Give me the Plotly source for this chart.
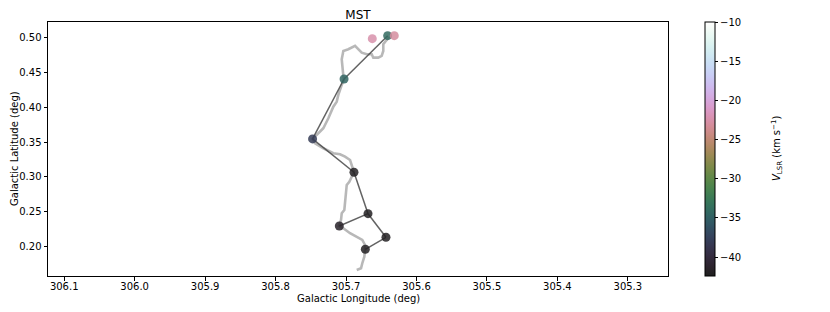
import numpy as np
import plotly.graph_objects as go

# Skeleton (gray path) in galactic coordinates
skel_l = [305.6848, 305.6787, 305.6769, 305.6740, 305.6730, 305.6730, 305.6769, 305.6848,
          305.6943, 305.7038, 305.7099, 305.7071, 305.7061, 305.7024, 305.7014, 305.7004,
          305.6990, 305.6990, 305.6953, 305.6919, 305.6887, 305.6897, 305.6919, 305.6943,
          305.7014, 305.7085, 305.7180, 305.7322, 305.7440, 305.7475, 305.7393, 305.7322,
          305.7251, 305.7180, 305.7132, 305.7109, 305.7061, 305.7028, 305.7038, 305.7047,
          305.7061, 305.7038, 305.6967, 305.6872, 305.6826, 305.6777, 305.6706, 305.6635,
          305.6613, 305.6542, 305.6494, 305.6471, 305.6471, 305.6423, 305.6390]
skel_b = [0.1657, 0.1682, 0.1754, 0.1849, 0.1945, 0.2017, 0.2089, 0.2137,
          0.2186, 0.2258, 0.2291, 0.2378, 0.2474, 0.2522, 0.2618, 0.2713,
          0.2810, 0.2882, 0.2929, 0.3001, 0.3069, 0.3098, 0.3160, 0.3242,
          0.3290, 0.3324, 0.3339, 0.3411, 0.3483, 0.3545, 0.3627, 0.3699,
          0.3843, 0.4010, 0.4082, 0.4179, 0.4323, 0.4409, 0.4452, 0.4572,
          0.4693, 0.4813, 0.4837, 0.4885, 0.4837, 0.4788, 0.4765, 0.4765,
          0.4716, 0.4716, 0.4741, 0.4813, 0.4909, 0.4981, 0.5014]

# MST nodes
node_l = [305.6409, 305.7028, 305.7475, 305.6887, 305.6688, 305.7095, 305.6433, 305.6726, 305.6627, 305.6315]
node_b = [0.5033, 0.4409, 0.3545, 0.3065, 0.2468, 0.2291, 0.2128, 0.1955, 0.4990, 0.5033]
node_v = [-34.0, -34.5, -38.0, -42.0, -42.0, -41.5, -42.0, -42.0, -22.5, -23.0]

# MST edges (node index pairs)
edges = [(0, 1), (1, 2), (2, 3), (3, 4), (4, 5), (4, 6), (6, 7)]

v_min, v_max = -42.4, -10.0
cbar_ticks = [-10, -15, -20, -25, -30, -35, -40]


def cubehelix(n=64, gamma=1.0, s=0.5, r=-1.5, h=1.0, alpha=1.0):
    scale = []
    for i in range(n):
        x = i / (n - 1)
        xg = x ** gamma
        a = h * xg * (1 - xg) / 2
        phi = 2 * np.pi * (s / 3 + r * x)
        R = xg + a * (-0.14861 * np.cos(phi) + 1.78277 * np.sin(phi))
        G = xg + a * (-0.29227 * np.cos(phi) - 0.90649 * np.sin(phi))
        B = xg + a * (1.97294 * np.cos(phi))
        rgb = [int(round(255 * (alpha * min(1, max(0, c)) + (1 - alpha)))) for c in (R, G, B)]
        scale.append([x, f"rgb({rgb[0]},{rgb[1]},{rgb[2]})"])
    return scale


ex, ey = [], []
for a, b in edges:
    ex += [node_l[a], node_l[b], None]
    ey += [node_b[a], node_b[b], None]

# page has an 8px body margin: figure is placed at (8, 8)
W, H = 814, 296
L, R, T, B = 40, 154, 14, 28
plot_w = W - L - R
plot_h = H - T - B
FS = 10

fig = go.Figure()
fig.add_trace(go.Scatter(x=skel_l, y=skel_b, mode="lines",
                         line=dict(color="rgba(160,160,160,0.75)", width=2.6),
                         hoverinfo="skip", showlegend=False))
fig.add_trace(go.Scatter(x=ex, y=ey, mode="lines",
                         line=dict(color="rgba(70,70,70,0.85)", width=1.5),
                         hoverinfo="skip", showlegend=False))
fig.add_trace(go.Scatter(
    x=node_l, y=node_b, mode="markers", showlegend=False,
    marker=dict(size=9, color=node_v, colorscale=cubehelix(alpha=0.88), cmin=v_min, cmax=v_max,
                opacity=0.85, line=dict(width=0),
                colorbar=dict(x=1 + 37 / plot_w, xanchor="left", xpad=0, ypad=0,
                              y=0.5, yanchor="middle", len=1.0,
                              lenmode="fraction", thickness=10, outlinewidth=1,
                              outlinecolor="black", tickvals=cbar_ticks,
                              ticks="outside", ticklen=3, tickcolor="black",
                              tickfont=dict(size=FS, color="black")))))

fig.add_annotation(x=1 + 109 / plot_w, y=0.5, xref="paper", yref="paper",
                   text="<i>V</i><sub>LSR</sub> (km s<sup>−1</sup>)", textangle=-90,
                   showarrow=False, xanchor="center", yanchor="middle",
                   font=dict(size=FS, color="black"))
fig.add_annotation(x=0.5, y=-22 / plot_h, xref="paper", yref="paper",
                   text="Galactic Longitude (deg)", showarrow=False,
                   xanchor="center", yanchor="middle", font=dict(size=FS, color="black"))
fig.add_annotation(x=-34 / plot_w, y=0.5, xref="paper", yref="paper",
                   text="Galactic Latitude (deg)", textangle=-90, showarrow=False,
                   xanchor="center", yanchor="middle", font=dict(size=FS, color="black"))

axis_common = dict(showline=True, linecolor="black", linewidth=1, mirror=True,
                   ticks="outside", ticklen=3.5, tickcolor="black", showgrid=False,
                   zeroline=False, automargin=False, tickfont=dict(size=FS, color="black"))

fig.update_layout(
    width=W, height=H,
    margin=dict(l=L, r=R, t=T, b=B),
    paper_bgcolor="white", plot_bgcolor="white",
    font=dict(family="DejaVu Sans", color="black"),
    title=dict(text="MST", x=(L + plot_w / 2) / W, xanchor="center", y=1 - 7 / H,
               yanchor="middle", automargin=False, font=dict(size=12, color="black")),
    xaxis=dict(range=[306.123, 305.243], dtick=0.1, tick0=305.0, tickformat=".1f",
               ticklabelstandoff=-3, **axis_common),
    yaxis=dict(range=[0.157, 0.523], dtick=0.05, tick0=0.0, tickformat=".2f",
               **axis_common),
)

fig.write_html("out.html")
